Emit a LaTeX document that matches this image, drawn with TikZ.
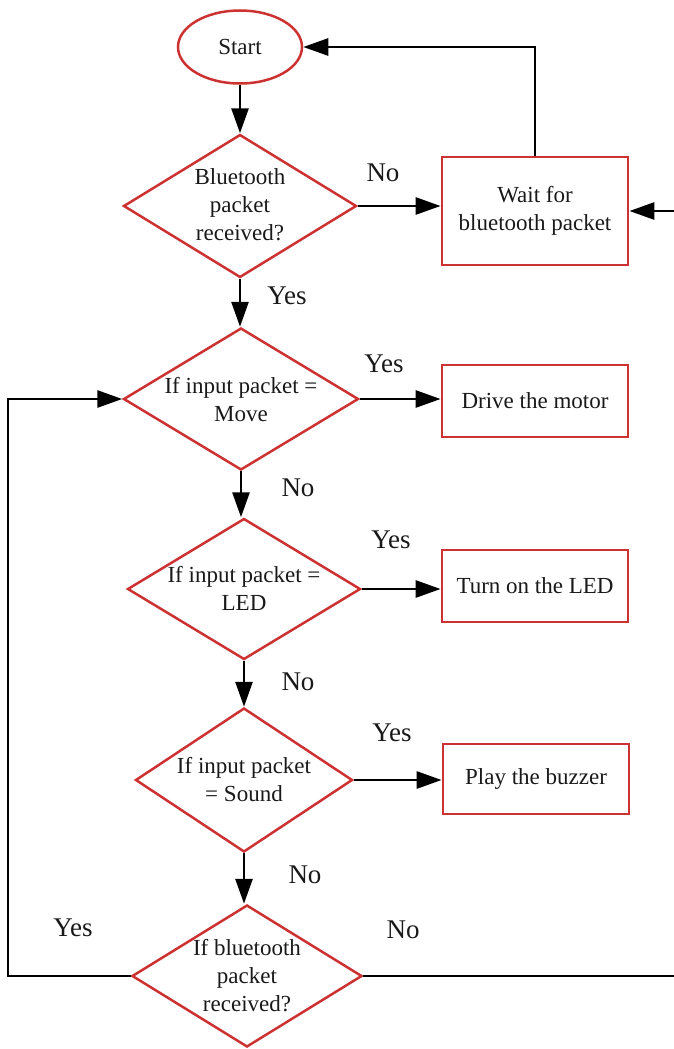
\documentclass[tikz,border=0pt]{standalone}
\usepackage{fontspec}
\setmainfont{Liberation Serif}
\usetikzlibrary{shapes.geometric,arrows.meta}
\definecolor{fcred}{RGB}{205,50,50}
\begin{document}
\begin{tikzpicture}[x=1pt,y=-1pt,
  every node/.style={font=\fontsize{23}{28}\selectfont, text=black!90},
  dia/.style={diamond, draw=fcred, line width=2.5pt, inner sep=0pt, minimum height=142pt},
  rbox/.style={rectangle, draw=fcred, line width=2.8pt, inner sep=0pt, minimum width=186pt},
  txt/.style={align=center, inner sep=0pt},
  lbl/.style={font=\fontsize{27}{32}\selectfont},
  arr/.style={line width=2.8pt, -{Triangle[length=25pt,width=17pt]}},
  ln/.style={line width=2.8pt}
]
\useasboundingbox (0,0) rectangle (673,1049);

% shapes
\node[ellipse, draw=fcred, line width=2.5pt, minimum width=124pt, minimum height=73pt, inner sep=0pt] (start) at (240,47) {Start};

\node[dia, minimum width=233pt, minimum height=143pt] (d1) at (240,206) {};
\node[txt] (d1t) at (240,205) {Bluetooth\\packet\\received?};

\node[dia, minimum width=235pt] (d2) at (241,399) {};
\node[txt] (d2t) at (241,400) {If input packet =\\Move};

\node[dia, minimum width=233pt, minimum height=141pt] (d3) at (244,589) {};
\node[txt] (d3t) at (244,588) {If input packet =\\LED};

\node[dia, minimum width=217pt, minimum height=144pt] (d4) at (244,780) {};
\node[txt] (d4t) at (244,780) {If input packet\\= Sound};

\node[dia, minimum width=230pt] (d5) at (247,976) {};
\node[txt] (d5t) at (247,976) {If bluetooth\\packet\\received?};

\node[rbox, minimum height=108pt, align=center] (wait) at (535,211) {Wait for\\bluetooth packet};
\node[rbox, minimum height=72pt] (drive) at (535,401) {Drive the motor};
\node[rbox, minimum height=72pt] (led) at (535,586) {Turn on the LED};
\node[rbox, minimum height=70pt] (buzz) at (536,779) {Play the buzzer};

% helper coordinates for the outer loops
\coordinate (lx) at (8,0);
\coordinate (rx) at (678,0);

% connectors
\draw[arr] (start.south) -- (start.south |- d1.north);
\draw[arr] (d1.south) -- (d1.south |- d2.north);
\draw[arr] (d2.south) -- (d2.south |- d3.north);
\draw[arr] (d3.south) -- (d3.south |- d4.north);
\draw[arr] (d4.south) -- (d4.south |- d5.north);

\draw[arr] (d1.east) -- (d1.east -| wait.west);
\draw[arr] (d2.east) -- (d2.east -| drive.west);
\draw[arr] (d3.east) -- (d3.east -| led.west);
\draw[arr] (d4.east) -- (d4.east -| buzz.west);

\draw[arr] (wait.north) |- (start.east);
\draw[arr] (d5.west) -- (d5.west -| lx) -- (d2.west -| lx) -- (d2.west);
\draw[arr] (d5.east) -- (d5.east -| rx) -- (wait.east -| rx) -- (wait.east);

% labels
\node[lbl] (l1) at (383,173) {No};
\node[lbl] (l2) at (287,296) {Yes};
\node[lbl] (l3) at (384,364) {Yes};
\node[lbl] (l4) at (298,488) {No};
\node[lbl] (l5) at (391,540) {Yes};
\node[lbl] (l6) at (298,682) {No};
\node[lbl] (l7) at (392,733) {Yes};
\node[lbl] (l8) at (305,875) {No};
\node[lbl] (l9) at (73,928) {Yes};
\node[lbl] (l10) at (403,930) {No};
\end{tikzpicture}
\end{document}
